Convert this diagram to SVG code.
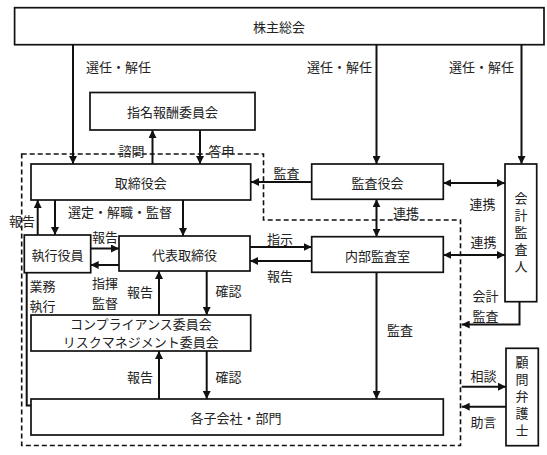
<svg xmlns="http://www.w3.org/2000/svg" width="547" height="455" viewBox="0 0 547 455">
<style>
  .box{fill:#fff;stroke:#111;stroke-width:1.7}
  .t{font-family:"Noto Sans CJK JP","Noto Sans CJK SC",sans-serif;font-size:13px;fill:#222;text-anchor:middle;dominant-baseline:central}
  .v{font-family:"Noto Sans CJK JP","Noto Sans CJK SC",sans-serif;font-size:13px;fill:#222;text-anchor:middle;writing-mode:vertical-rl;letter-spacing:4px}
  .c{fill:none;stroke:#111;stroke-width:2}
  .dash{fill:none;stroke:#111;stroke-width:1.6;stroke-dasharray:5,3}
</style>
<defs>
  <marker id="ah" viewBox="0 0 10 10" refX="10" refY="5" markerWidth="8" markerHeight="8" markerUnits="userSpaceOnUse" orient="auto-start-reverse">
    <path d="M0,0 L10,5 L0,10 z" fill="#111"/>
  </marker>
</defs>
<rect width="547" height="455" fill="#fff"/>
<path class="dash" d="M21.7,154 H263.5 V220 H460.5 V445.5 H21.7 Z"/>

<g id="connectors">
  <path class="c" d="M73,45 V164" marker-end="url(#ah)"/>
  <path class="c" d="M376.5,45 V164" marker-end="url(#ah)"/>
  <path class="c" d="M521.5,45 V164" marker-end="url(#ah)"/>
  <path class="c" d="M152.5,164 V130" marker-end="url(#ah)"/>
  <path class="c" d="M200,130 V164" marker-end="url(#ah)"/>
  <path class="c" d="M311.7,182 H251" marker-end="url(#ah)"/>
  <path class="c" d="M443.3,183 H505" marker-start="url(#ah)" marker-end="url(#ah)"/>
  <path class="c" d="M376.5,199.3 V236.7" marker-start="url(#ah)" marker-end="url(#ah)"/>
  <path class="c" d="M443.3,255 H505" marker-start="url(#ah)" marker-end="url(#ah)"/>
  <path class="c" d="M250,247 H311.7" marker-end="url(#ah)"/>
  <path class="c" d="M311.7,261 H250" marker-end="url(#ah)"/>
  <path class="c" d="M55,200 V235" marker-end="url(#ah)"/>
  <path class="c" d="M183,200 V236" marker-end="url(#ah)"/>
  <path class="c" d="M37.7,235 V200" marker-end="url(#ah)"/>
  <path class="c" d="M90.7,248.5 H119" marker-end="url(#ah)"/>
  <path class="c" d="M119,265 H90.7" marker-end="url(#ah)"/>
  <path class="c" d="M26.7,272.7 V405.5 H40" marker-end="url(#ah)"/>
  <path class="c" d="M159,315 V271" marker-end="url(#ah)"/>
  <path class="c" d="M206.7,271 V315" marker-end="url(#ah)"/>
  <path class="c" d="M159,399 V351" marker-end="url(#ah)"/>
  <path class="c" d="M206.7,351 V399" marker-end="url(#ah)"/>
  <path class="c" d="M376.5,272.3 V399" marker-end="url(#ah)"/>
  <path class="c" d="M519.5,301.7 V324.5 H461.7" marker-end="url(#ah)"/>
  <path class="c" d="M461.7,386.7 H506" marker-end="url(#ah)"/>
  <path class="c" d="M506,406.7 H461.7" marker-end="url(#ah)"/>
</g>

<g id="labels">
  <text class="t" x="118.5" y="66">選任・解任</text>
  <text class="t" x="339.5" y="66">選任・解任</text>
  <text class="t" x="481.5" y="66">選任・解任</text>
  <text class="t" x="131.5" y="150">諮問</text>
  <text class="t" x="221.5" y="150">答申</text>
  <text class="t" x="286.5" y="172">監査</text>
  <text class="t" x="482.5" y="203">連携</text>
  <text class="t" x="406" y="212">連携</text>
  <text class="t" x="120" y="211.7">選定・解職・監督</text>
  <text class="t" x="22" y="220">報告</text>
  <text class="t" x="105" y="236.7">報告</text>
  <text class="t" x="105" y="281.5"><tspan x="105" y="281.5">指揮</tspan><tspan x="105" dy="20">監督</tspan></text>
  <text class="t" x="42.5" y="284.5"><tspan x="42.5" y="284.5">業務</tspan><tspan x="42.5" dy="20">執行</tspan></text>
  <text class="t" x="280" y="238.7">指示</text>
  <text class="t" x="280" y="275">報告</text>
  <text class="t" x="483.5" y="241.7">連携</text>
  <text class="t" x="140" y="291.7">報告</text>
  <text class="t" x="228.5" y="290">確認</text>
  <text class="t" x="140" y="376">報告</text>
  <text class="t" x="228.5" y="376">確認</text>
  <text class="t" x="400" y="329">監査</text>
  <text class="t" x="485.5" y="295"><tspan x="485.5" y="295">会計</tspan><tspan x="485.5" dy="20">監査</tspan></text>
  <text class="t" x="483.5" y="375">相談</text>
  <text class="t" x="483.5" y="421.7">助言</text>
</g>

<g id="kabunushi">
  <rect class="box" x="14.6" y="7.7" width="529.4" height="37"/>
  <text class="t" x="279" y="26">株主総会</text>
</g>
<g id="shimei">
  <rect class="box" x="90" y="92.5" width="165" height="37.5"/>
  <text class="t" x="172.5" y="111">指名報酬委員会</text>
</g>
<g id="torishimariyakukai">
  <rect class="box" x="31" y="164" width="219.7" height="36"/>
  <text class="t" x="140.8" y="182">取締役会</text>
</g>
<g id="kansayakukai">
  <rect class="box" x="311.7" y="164" width="131.6" height="35.3"/>
  <text class="t" x="377.5" y="182">監査役会</text>
</g>
<g id="kaikeikansanin">
  <rect class="box" x="505" y="164" width="31.7" height="137.7"/>
  <text class="v" x="521" y="234">会計監査人</text>
</g>
<g id="shikkouyakuin">
  <rect class="box" x="24.3" y="235" width="66.4" height="37.7"/>
  <text class="t" x="57.5" y="254">執行役員</text>
</g>
<g id="daihyo">
  <rect class="box" x="119" y="236" width="131" height="35"/>
  <text class="t" x="184.5" y="254">代表取締役</text>
</g>
<g id="naibukansa">
  <rect class="box" x="311.7" y="236.7" width="131.6" height="35.6"/>
  <text class="t" x="377.5" y="255">内部監査室</text>
</g>
<g id="compliance">
  <rect class="box" x="31" y="315" width="219.7" height="36"/>
  <text class="t" x="140.8" y="323.5">コンプライアンス委員会</text>
  <text class="t" x="140.8" y="341.7">リスクマネジメント委員会</text>
</g>
<g id="kogaisha">
  <rect class="box" x="31" y="399" width="412.3" height="36"/>
  <text class="t" x="236" y="417.7">各子会社・部門</text>
</g>
<g id="komon">
  <rect class="box" x="506" y="348.3" width="32.3" height="97.4"/>
  <text class="v" x="522" y="398">顧問弁護士</text>
</g>
</svg>
